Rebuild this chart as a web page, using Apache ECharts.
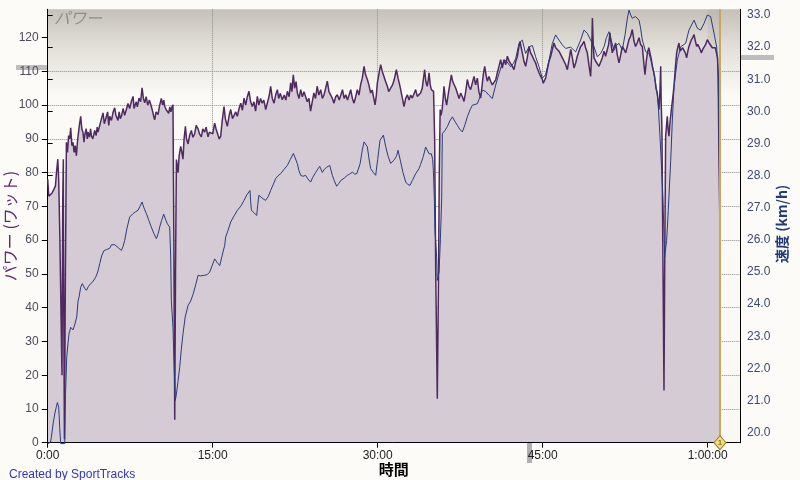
<!DOCTYPE html>
<html>
<head>
<meta charset="utf-8">
<title>パワー</title>
<script src="https://cdn.jsdelivr.net/npm/echarts@6/dist/echarts.min.js"></script>
<style>
  html, body { margin: 0; padding: 0; background: #fcfbf7; }
  #chart { width: 800px; height: 480px; }
</style>
</head>
<body>
<div id="chart"></div>
<script>
// [minutes, watts]
const power = [
  [0, 78], [0.1, 73], [0.25, 73.5], [0.4, 74], [0.55, 75], [0.7, 76], [0.8, 80], [0.92, 84], [1.0, 78], [1.1, 62],
  [1.3, 20], [1.36, 70], [1.42, 84], [1.46, 40], [1.52, 1], [1.6, 45], [1.7, 89], [1.8, 86], [1.9, 91], [2.0, 90],
  [2.09, 93.3], [2.2, 88], [2.3, 89], [2.4, 86], [2.5, 88], [2.61, 85], [2.7, 89], [2.76, 90.8], [2.88, 94], [3.0, 96.7],
  [3.1, 93], [3.21, 91.9], [3.3, 89], [3.36, 91], [3.5, 93], [3.6, 90], [3.67, 92], [3.8, 90.5], [3.9, 93], [3.97, 91],
  [4.1, 90], [4.27, 92.5], [4.4, 91], [4.5, 93.5], [4.58, 92], [4.73, 94], [4.85, 95.5], [5.03, 97.7], [5.15, 94.5], [5.33, 95],
  [5.45, 98], [5.55, 94], [5.64, 96.7], [5.8, 95.5], [5.95, 98], [6.09, 99.2], [6.2, 97], [6.39, 95.5], [6.5, 98], [6.6, 96],
  [6.7, 96.7], [6.85, 99], [7.0, 97], [7.15, 98.7], [7.3, 100.5], [7.45, 99], [7.6, 101], [7.76, 102.6], [7.85, 99], [7.91, 98.7],
  [8.05, 101], [8.15, 99.5], [8.3, 102.1], [8.45, 101], [8.58, 105.1], [8.7, 102], [8.82, 100.7], [8.95, 102.5], [9.1, 100], [9.25, 101.5],
  [9.42, 99.6], [9.55, 98], [9.65, 96.5], [9.73, 95.7], [9.85, 98], [10.03, 97.2], [10.15, 99.5], [10.33, 102], [10.45, 100], [10.55, 101.5],
  [10.64, 99.6], [10.8, 98.5], [11.0, 97.6], [11.1, 99.5], [11.2, 98], [11.3, 99.5], [11.39, 100.1], [11.47, 60], [11.55, 6.8], [11.62, 50],
  [11.7, 83.9], [11.78, 82], [11.85, 80], [11.95, 85], [12.09, 87.8], [12.2, 86], [12.3, 84], [12.4, 90], [12.52, 93.7], [12.62, 90],
  [12.76, 88.5], [12.9, 91], [13.06, 92.5], [13.2, 90.5], [13.36, 91.5], [13.5, 94], [13.67, 93], [13.8, 91.5], [13.97, 90.6], [14.1, 93],
  [14.27, 92], [14.4, 93.5], [14.58, 90.6], [14.7, 92], [14.88, 92.5], [15.0, 91.5], [15.18, 94.7], [15.3, 93], [15.48, 92.5], [15.6, 90],
  [15.73, 90.8], [15.85, 95], [16.03, 99.6], [16.15, 96], [16.33, 93.7], [16.5, 97], [16.64, 98.7], [16.8, 96], [16.94, 95.7], [17.1, 98],
  [17.24, 96.7], [17.4, 99], [17.55, 100.6], [17.7, 98.5], [17.85, 102.1], [18.0, 100], [18.15, 102.5], [18.3, 104.1], [18.45, 101], [18.6, 99.6],
  [18.75, 101], [18.9, 98.2], [19.06, 102.6], [19.2, 100], [19.35, 102], [19.5, 100.6], [19.65, 101.5], [19.82, 98.7], [20.0, 101], [20.15, 103],
  [20.27, 105.6], [20.42, 102], [20.58, 100.6], [20.72, 103], [20.88, 104.6], [21.0, 102], [21.15, 103.5], [21.33, 101.6], [21.5, 103], [21.65, 101.5],
  [21.79, 104.1], [21.95, 102.5], [22.09, 106.6], [22.2, 104], [22.33, 109], [22.45, 105], [22.58, 107], [22.7, 103.6], [22.85, 102], [23.0, 104.6],
  [23.15, 102.5], [23.3, 104], [23.45, 103.6], [23.6, 101], [23.75, 102], [23.9, 98.2], [24.05, 101], [24.2, 103.6], [24.35, 102], [24.5, 105.6],
  [24.65, 103], [24.82, 104.6], [24.97, 102], [25.12, 103.1], [25.27, 105], [25.42, 107.1], [25.57, 104], [25.73, 103.6], [25.88, 102], [26.03, 100.6],
  [26.18, 102.5], [26.33, 103.1], [26.5, 101.5], [26.65, 103], [26.8, 104.6], [26.95, 102], [27.1, 103.1], [27.25, 101.5], [27.4, 103], [27.55, 104.6],
  [27.7, 102], [27.85, 100.6], [28.0, 102.5], [28.15, 104.6], [28.3, 103], [28.45, 106.1], [28.6, 108], [28.76, 111.5], [28.9, 109], [29.06, 107.6],
  [29.2, 106], [29.36, 103.6], [29.5, 104.5], [29.65, 102], [29.76, 100.1], [29.88, 103], [29.97, 106.6], [30.1, 109], [30.27, 112], [30.42, 110],
  [30.58, 109.6], [30.72, 107], [30.88, 105.6], [31.0, 104], [31.18, 103.6], [31.35, 106], [31.5, 107.5], [31.7, 110.5], [31.85, 108], [32.0, 106],
  [32.09, 105.6], [32.25, 102], [32.39, 99.6], [32.55, 102], [32.7, 103.1], [32.85, 101.5], [33.0, 103], [33.15, 102.1], [33.3, 101.6], [33.45, 104.6],
  [33.6, 102.6], [33.75, 103], [33.9, 103.6], [34.05, 105], [34.15, 107.5], [34.27, 110.5], [34.38, 107], [34.5, 105.6], [34.6, 107.5], [34.67, 109.6],
  [34.78, 106], [34.88, 104.6], [35.0, 105], [35.08, 104.1], [35.18, 90], [35.28, 50], [35.42, 13], [35.52, 45], [35.6, 80], [35.68, 98.7],
  [35.76, 97], [35.86, 98.7], [35.95, 102], [36.03, 105.6], [36.15, 102], [36.27, 100], [36.4, 103], [36.55, 106], [36.7, 109], [36.82, 107],
  [36.94, 106.6], [37.1, 105], [37.24, 104.6], [37.4, 102], [37.55, 103.6], [37.7, 102.5], [37.85, 101.1], [38.0, 104], [38.15, 107.6], [38.3, 105.5],
  [38.45, 104.6], [38.6, 106.5], [38.76, 108.5], [38.9, 106], [39.06, 108], [39.2, 104], [39.36, 102.1], [39.5, 106], [39.6, 109], [39.73, 111.5],
  [39.85, 109], [39.97, 107.1], [40.12, 108.5], [40.27, 107.1], [40.42, 106], [40.58, 105.6], [40.73, 107.5], [40.88, 109.6], [41.03, 111.5], [41.18, 113.5],
  [41.33, 111], [41.48, 113.5], [41.64, 112], [41.79, 114.5], [41.95, 113], [42.09, 112.5], [42.25, 111.5], [42.39, 110.5], [42.55, 113], [42.7, 114.5],
  [42.82, 117], [42.94, 118.9], [43.05, 117], [43.15, 115.5], [43.3, 113], [43.45, 111.5], [43.6, 114], [43.76, 117.4], [43.9, 115.5], [44.06, 114.5],
  [44.2, 113.5], [44.36, 112.5], [44.5, 111], [44.67, 109.6], [44.82, 108.5], [44.97, 107.6], [45.05, 106.5], [45.12, 106.1], [45.27, 108], [45.42, 110.5],
  [45.58, 113], [45.73, 114.5], [45.88, 116.5], [46.03, 118.4], [46.18, 117], [46.33, 117.4], [46.48, 116], [46.64, 115.5], [46.79, 114], [46.94, 113],
  [47.09, 112], [47.24, 110.5], [47.4, 113.5], [47.55, 116.5], [47.7, 114], [47.85, 111], [48.0, 112.5], [48.15, 114.5], [48.3, 116], [48.45, 117.4],
  [48.6, 118], [48.76, 118.9], [48.9, 117], [49.06, 115.5], [49.2, 112], [49.36, 108.5], [49.45, 115], [49.52, 125.8], [49.6, 118], [49.67, 114],
  [49.82, 113], [49.97, 112.5], [50.12, 111.5], [50.27, 111], [50.42, 114], [50.58, 116], [50.72, 114.5], [50.88, 115], [51.0, 118], [51.12, 121.4],
  [51.22, 118], [51.33, 115.5], [51.48, 117], [51.64, 118.4], [51.78, 115], [51.94, 112.5], [52.1, 115], [52.24, 117.4], [52.4, 116.5], [52.55, 115.5],
  [52.7, 117.5], [52.85, 119.4], [53.0, 120.5], [53.15, 122.4], [53.3, 119], [53.45, 117.4], [53.6, 118.5], [53.76, 120], [53.9, 118], [54.06, 117.4],
  [54.18, 113], [54.3, 109], [54.42, 113], [54.52, 115.5], [54.65, 117], [54.76, 116.5], [54.88, 113.5], [54.97, 111.5], [55.08, 110], [55.18, 108.5],
  [55.3, 105], [55.42, 103.6], [55.5, 101], [55.58, 98.7], [55.66, 104], [55.73, 111.5], [55.78, 100], [55.84, 93.7], [55.92, 60], [56.03, 15.5],
  [56.1, 55], [56.18, 90.8], [56.26, 94], [56.33, 96.7], [56.4, 93], [56.48, 90.8], [56.58, 95], [56.7, 98.7], [56.82, 102], [56.94, 105.6],
  [57.06, 111], [57.18, 115.5], [57.28, 117], [57.39, 118.4], [57.5, 116], [57.61, 115.5], [57.73, 117], [57.85, 117.4], [57.97, 115.5], [58.09, 114],
  [58.2, 116], [58.3, 117.4], [58.42, 118.5], [58.52, 119.4], [58.64, 120], [58.76, 120.9], [58.88, 119], [59.0, 117.4], [59.1, 118], [59.21, 118.4],
  [59.32, 116.5], [59.42, 115.5], [59.55, 116.5], [59.67, 117], [59.82, 118], [59.97, 119.4], [60.12, 118.5], [60.27, 118.4], [60.42, 117], [60.58, 116.5],
  [60.7, 117], [60.82, 116.5], [60.9, 114], [60.96, 108], [61.03, 84], [61.12, 63]
];

// [minutes, km/h]
const speed = [
  [0, 19.66], [0.25, 19.7], [0.33, 19.85], [0.5, 20.3], [0.64, 20.58], [0.78, 20.8], [0.88, 20.94], [1.0, 20.8], [1.09, 20.17], [1.18, 19.66],
  [1.55, 19.66], [1.62, 21.2], [1.73, 22.35], [1.85, 22.8], [1.94, 23.08], [2.09, 23.28], [2.3, 23.2], [2.45, 23.35], [2.64, 23.6], [2.76, 24.1],
  [2.85, 24.22], [3.0, 24.53], [3.15, 24.64], [3.21, 24.69], [3.35, 24.5], [3.52, 24.43], [3.7, 24.55], [3.91, 24.64], [4.1, 24.7], [4.36, 24.84],
  [4.55, 25.0], [4.73, 25.26], [4.9, 25.5], [5.12, 25.67], [5.35, 25.7], [5.64, 25.74], [5.8, 25.85], [5.94, 25.9], [6.1, 25.85], [6.24, 25.8],
  [6.45, 25.75], [6.7, 25.67], [6.85, 25.8], [7.0, 25.98], [7.2, 26.35], [7.45, 26.71], [7.6, 26.75], [7.76, 26.82], [8.0, 26.88], [8.21, 26.92],
  [8.4, 27.05], [8.58, 27.18], [8.75, 27.0], [8.97, 26.82], [9.2, 26.6], [9.42, 26.4], [9.65, 26.2], [9.88, 26.04], [10.05, 26.2], [10.18, 26.4],
  [10.35, 26.6], [10.55, 26.8], [10.7, 26.65], [10.88, 26.5], [11.09, 26.4], [11.18, 25.5], [11.24, 24.1], [11.39, 23.28], [11.5, 22.0], [11.6, 21.0],
  [11.7, 21.2], [11.85, 21.6], [12.0, 22.04], [12.15, 22.6], [12.3, 23.08], [12.5, 23.6], [12.76, 23.96], [13.0, 24.1], [13.21, 24.3], [13.45, 24.6],
  [13.67, 24.9], [13.9, 24.88], [14.27, 24.9], [14.5, 24.92], [14.73, 25.0], [14.95, 25.2], [15.18, 25.41], [15.4, 25.3], [15.64, 25.2], [15.85, 25.5],
  [16.09, 25.83], [16.18, 26.09], [16.4, 26.3], [16.64, 26.56], [16.95, 26.75], [17.24, 26.92], [17.55, 27.05], [17.85, 27.23], [18.1, 27.4], [18.39, 27.54],
  [18.45, 27.2], [18.52, 26.92], [18.75, 26.85], [19.0, 26.76], [19.1, 27.1], [19.2, 27.39], [19.5, 27.3], [19.8, 27.23], [20.05, 27.35], [20.27, 27.54],
  [20.5, 27.72], [20.73, 27.91], [20.95, 28.0], [21.18, 28.06], [21.5, 28.2], [21.79, 28.32], [22.05, 28.5], [22.33, 28.69], [22.5, 28.55], [22.7, 28.37],
  [22.85, 28.15], [23.0, 28.01], [23.2, 27.98], [23.45, 28.01], [23.65, 27.9], [23.9, 27.8], [24.1, 27.95], [24.36, 28.1], [24.55, 28.2], [24.73, 28.29],
  [24.97, 28.1], [25.15, 28.2], [25.36, 28.26], [25.64, 28.32], [25.88, 28.01], [26.05, 27.85], [26.27, 27.67], [26.45, 27.75], [26.64, 27.85], [26.95, 27.92],
  [27.24, 28.01], [27.45, 28.05], [27.7, 28.11], [27.9, 28.05], [28.1, 28.06], [28.4, 28.37], [28.6, 28.8], [28.76, 29.05], [28.9, 29.0], [29.06, 28.9],
  [29.2, 28.55], [29.36, 28.22], [29.6, 28.1], [29.82, 28.01], [30.0, 28.5], [30.21, 29.1], [30.52, 29.26], [30.73, 28.9], [30.95, 28.6], [31.18, 28.38],
  [31.48, 28.48], [31.7, 28.6], [31.85, 28.79], [32.09, 28.43], [32.3, 28.1], [32.55, 27.8], [32.75, 27.72], [32.94, 27.7], [33.15, 27.85], [33.45, 28.06],
  [33.76, 28.22], [33.9, 28.35], [34.15, 28.6], [34.36, 28.89], [34.5, 28.85], [34.67, 28.68], [34.88, 28.68], [35.0, 28.5], [35.06, 28.17], [35.15, 27.3],
  [35.21, 26.3], [35.36, 25.46], [35.42, 24.74], [35.58, 25.0], [35.7, 26.0], [35.82, 27.33], [35.88, 29.31], [36.1, 29.4], [36.33, 29.52], [36.55, 29.7],
  [36.79, 29.83], [37.0, 29.7], [37.24, 29.57], [37.45, 29.45], [37.7, 29.36], [37.95, 29.6], [38.15, 29.83], [38.4, 30.05], [38.6, 30.19], [39.06, 30.24],
  [39.3, 30.45], [39.52, 30.66], [39.82, 30.62], [40.12, 30.5], [40.42, 30.4], [40.73, 30.82], [41.03, 31.18], [41.33, 31.49], [41.64, 31.6], [41.85, 31.5],
  [42.09, 31.39], [42.35, 31.5], [42.55, 31.65], [42.85, 32.12], [43.15, 32.22], [43.45, 31.8], [43.76, 32.01], [44.06, 32.05], [44.36, 31.7], [44.67, 31.39],
  [44.97, 31.03], [45.27, 31.15], [45.58, 31.6], [45.88, 32.12], [46.18, 32.38], [46.48, 32.22], [46.79, 32.07], [47.09, 31.96], [47.55, 32.0], [48.0, 31.85],
  [48.45, 32.22], [48.76, 32.53], [49.06, 32.43], [49.36, 32.22], [49.67, 32.01], [49.97, 31.7], [50.27, 31.8], [50.58, 32.01], [50.8, 32.3], [51.03, 32.48],
  [51.25, 32.2], [51.48, 31.9], [51.7, 32.05], [51.94, 32.12], [52.24, 31.91], [52.5, 32.4], [52.7, 32.9], [52.85, 33.15], [53.0, 33.0], [53.15, 32.9],
  [53.45, 32.95], [53.76, 32.84], [53.9, 32.6], [54.06, 32.22], [54.36, 31.86], [54.67, 31.8], [54.97, 31.44], [55.27, 30.87], [55.48, 30.35], [55.67, 29.2],
  [55.82, 28.17], [55.94, 27.23], [56.09, 25.46], [56.27, 25.98], [56.42, 26.92], [56.64, 28.48], [56.79, 29.73], [56.94, 30.77], [57.24, 31.6], [57.55, 32.01],
  [58.0, 32.12], [58.3, 32.53], [58.76, 32.84], [59.06, 32.59], [59.36, 32.53], [59.67, 32.74], [59.97, 33.0], [60.27, 32.95], [60.58, 32.43], [60.82, 32.0],
  [60.95, 31.2], [61.03, 29.52], [61.12, 27.96]
];

const timeTicks = [0, 15, 30, 45, 60];
const powerTicks = [0, 10, 20, 30, 40, 50, 60, 70, 80, 90, 100, 110, 120];
const speedTicks = [20, 21, 22, 23, 24, 25, 26, 27, 28, 29, 30, 31, 32, 33];
const cursorMin = 61.12;
const selectFrom = 60;

function fmtTime(v) {
  const h = Math.floor(v / 60);
  const m = Math.round(v % 60);
  if (h > 0) return h + ":" + String(m).padStart(2, "0") + ":00";
  return m + ":00";
}

const chart = echarts.init(document.getElementById("chart"));
const gridBg = new echarts.graphic.LinearGradient(0, 0, 0, 1, [
  { offset: 0, color: "#c5c1b9" },
  { offset: 0.09, color: "#e3e0d9" },
  { offset: 0.2, color: "#fbfaf6" },
  { offset: 1, color: "#f9f8f3" },
]);
const latin = "Liberation Sans";
const cjk = "Noto Sans CJK JP";

chart.setOption({
  animation: false,
  backgroundColor: "#fcfbf7",
  title: [
    {
      text: "パワー",
      left: 49,
      top: 5,
      textStyle: { color: "#8c8c8c", fontSize: 16, fontStyle: "italic", fontWeight: "normal", fontFamily: cjk },
    },
    {
      text: "Created by SportTracks",
      left: 4,
      top: 464,
      textStyle: { color: "#3434c4", fontSize: 12, fontWeight: "normal", fontFamily: latin },
    },
  ],
  grid: [
    { left: 47.7, right: 60, top: 9.3, bottom: 37.3, containLabel: false, outerBoundsMode: "none", show: true, borderWidth: 0, backgroundColor: gridBg },
    { left: 47.7, right: 60, top: 15, bottom: 47.3, containLabel: false, outerBoundsMode: "none" },
  ],
  xAxis: [
    {
      gridIndex: 0,
      type: "value",
      min: 0,
      max: 62.94,
      interval: 15,
      z: 3,
      name: "時間",
      nameLocation: "middle",
      nameGap: 19,
      nameMoveOverlap: false,
      nameTextStyle: { color: "#000", fontSize: 15, fontWeight: "bold", fontFamily: cjk, verticalAlign: "top" },
      axisLine: { lineStyle: { color: "#000", width: 1 } },
      axisTick: { length: 5, lineStyle: { color: "#000" }, customValues: timeTicks },
      axisLabel: { color: "#222", fontSize: 12, fontFamily: latin, margin: 7, formatter: fmtTime, customValues: timeTicks },
      splitLine: { show: true, showMinLine: false, showMaxLine: false, lineStyle: { color: "#8a8a8a", type: "dotted" } },
    },
    { gridIndex: 1, type: "value", min: 0, max: 62.94, show: false },
  ],
  yAxis: [
    {
      gridIndex: 0,
      type: "value",
      position: "left",
      min: 0,
      max: 128.4,
      interval: 10,
      z: 3,
      name: "パワー (ワット)",
      nameLocation: "middle",
      nameRotate: 90,
      nameGap: 30,
      nameMoveOverlap: false,
      nameTextStyle: { color: "#5b2c6b", fontSize: 16, fontFamily: cjk },
      axisLine: { show: true, lineStyle: { color: "#000", width: 1 } },
      axisTick: { show: true, length: 6, lineStyle: { color: "#000" }, customValues: powerTicks },
      axisLabel: { color: "#4c4c5c", fontSize: 12, fontFamily: latin, margin: 9, customValues: powerTicks },
      splitLine: { show: true, showMinLine: false, showMaxLine: false, lineStyle: { color: "#8a8a8a", type: "dotted" } },
    },
    {
      gridIndex: 0,
      type: "value",
      position: "right",
      min: 0,
      max: 128.4,
      axisLine: { show: true, lineStyle: { color: "#000", width: 1 } },
      axisTick: { show: false },
      axisLabel: { show: false },
      splitLine: { show: false },
    },
    {
      gridIndex: 1,
      type: "value",
      position: "right",
      min: 20,
      max: 33,
      interval: 1,
      name: "速度 (km/h)",
      nameLocation: "middle",
      nameRotate: 90,
      nameGap: 35,
      nameMoveOverlap: false,
      nameTextStyle: { color: "#1f3a7a", fontSize: 14, fontWeight: "bold", fontFamily: cjk },
      axisLine: { show: false },
      axisTick: { show: true, length: 5, lineStyle: { color: "#000" }, customValues: speedTicks },
      axisLabel: { color: "#3b4a6e", fontSize: 12, fontFamily: latin, margin: 7, customValues: speedTicks, formatter: (v) => v.toFixed(1) },
      splitLine: { show: false },
    },
  ],
  series: [
    {
      name: "パワー",
      type: "line",
      xAxisIndex: 0,
      yAxisIndex: 0,
      data: power,
      symbol: "none",
      lineStyle: { color: "#4e2a60", width: 1.5 },
      areaStyle: { color: "#d4cbd4", opacity: 1 },
      markArea: {
        silent: true,
        itemStyle: { color: "rgba(90,70,90,0.07)" },
        data: [[{ xAxis: selectFrom }, { xAxis: cursorMin }]],
      },
      markLine: {
        silent: true,
        symbol: ["none", "none"],
        label: { show: false },
        lineStyle: { color: "#c9a65b", width: 2, type: "solid" },
        data: [{ xAxis: cursorMin }],
      },
      markPoint: {
        silent: true,
        symbol: "diamond",
        symbolSize: [12, 14],
        itemStyle: { color: "#f3dd7c", borderColor: "#9c7c2c", borderWidth: 1 },
        label: { show: true, formatter: "1", fontSize: 8, color: "#5a4a10", fontFamily: latin },
        data: [{ coord: [cursorMin, 0] }],
      },
    },
    {
      name: "速度",
      type: "line",
      xAxisIndex: 1,
      yAxisIndex: 2,
      data: speed,
      symbol: "none",
      clip: false,
      lineStyle: { color: "#2c3b7c", width: 1 },
    },
  ],
  graphic: [
    { type: "rect", shape: { x: 16, y: 65, width: 31, height: 5 }, style: { fill: "#bdbdbd" } },
    { type: "rect", shape: { x: 741, y: 55, width: 33, height: 5 }, style: { fill: "#bdbdbd" } },
    { type: "rect", shape: { x: 527, y: 443, width: 5, height: 20 }, style: { fill: "#b0b0b0" } },
  ],
});
</script>
</body>
</html>
